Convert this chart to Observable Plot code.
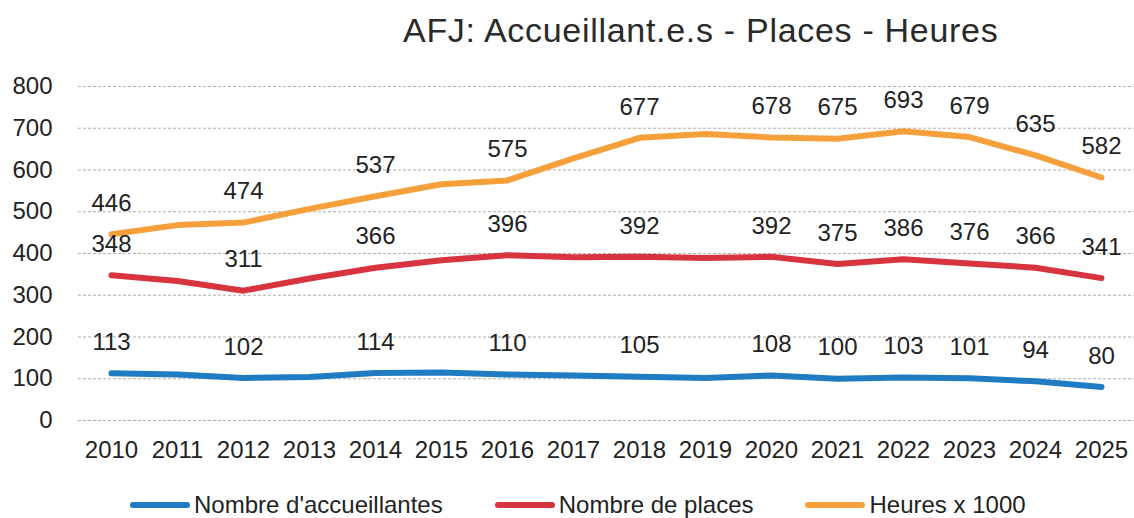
<!DOCTYPE html>
<html>
<head>
<meta charset="utf-8">
<script src="https://cdn.jsdelivr.net/npm/d3@7"></script>
<script src="https://cdn.jsdelivr.net/npm/@observablehq/plot@0.6"></script>
<style>
  html, body { margin: 0; padding: 0; background: #fff; }
  body { width: 1134px; height: 518px; position: relative; overflow: hidden; font-family: "Liberation Sans", Arial, sans-serif; color: #222; }
  #title { position: absolute; top: 11px; left: 403px; font-size: 34px; letter-spacing: 0.7px; white-space: nowrap; color: #2a2a2a; }
  #chart { position: absolute; top: 0; left: 0; }
  #legend { position: absolute; top: 491px; left: 130px; display: flex; align-items: center; font-size: 24px; white-space: nowrap; }
  .item { display: flex; align-items: center; margin-right: 52px; }
  .sw { width: 60px; height: 6px; border-radius: 3px; margin-right: 4px; }
</style>
</head>
<body>
<div id="title">AFJ: Accueillant.e.s - Places - Heures</div>
<div id="chart"></div>
<div id="legend"></div>
<script>
const years = [2010, 2011, 2012, 2013, 2014, 2015, 2016, 2017, 2018, 2019, 2020, 2021, 2022, 2023, 2024, 2025];
const accueillantes = [113, 110, 102, 104, 114, 115, 110, 108, 105, 102, 108, 100, 103, 101, 94, 80];
const places = [348, 334, 311, 340, 366, 384, 396, 391, 392, 389, 392, 375, 386, 376, 366, 341];
const heures = [446, 468, 474, 507, 537, 566, 575, 628, 677, 686, 678, 675, 693, 679, 635, 582];
const labeledYears = [2010, 2012, 2014, 2016, 2018, 2020, 2021, 2022, 2023, 2024, 2025];
const seriesNames = ["Nombre d'accueillantes", "Nombre de places", "Heures x 1000"];
const seriesColors = ["#1f7bc2", "#d8343f", "#f6a03c"];
const yTicks = [0, 100, 200, 300, 400, 500, 600, 700, 800];

const seriesValues = [accueillantes, places, heures];
const data = [];
seriesNames.forEach((name, i) => {
  years.forEach((yr, j) => data.push({ series: name, year: String(yr), value: seriesValues[i][j] }));
});
const labelData = data.filter(d => labeledYears.includes(+d.year));

const chart = Plot.plot({
  width: 1134,
  height: 518,
  marginTop: 86,
  marginBottom: 98,
  marginLeft: 78,
  marginRight: 0,
  style: { fontFamily: "Liberation Sans, Arial, sans-serif", background: "transparent" },
  x: { type: "point", domain: years.map(String), padding: 0.45, label: null },
  y: { domain: [0, 800], ticks: yTicks, label: null },
  color: { domain: seriesNames, range: seriesColors },
  marks: [
    Plot.ruleY(yTicks, { stroke: "#9a9a9a", strokeWidth: 1, strokeDasharray: "3,2", strokeOpacity: 0.8 }),
    Plot.axisY({ ticks: yTicks, tickSize: 0, tickPadding: 26, fontSize: 24, fill: "#222", label: null }),
    Plot.axisX({ tickSize: 0, tickPadding: 20, fontSize: 24, fill: "#222", label: null }),
    Plot.line(data, { x: "year", y: "value", z: "series", stroke: "series", strokeWidth: 6, strokeLinejoin: "round", strokeLinecap: "round" }),
    Plot.text(labelData, { x: "year", y: "value", text: d => String(d.value), dy: -31, fontSize: 24, fill: "#222" })
  ]
});
document.getElementById("chart").appendChild(chart);

const legend = document.getElementById("legend");
seriesNames.forEach((name, i) => {
  const item = document.createElement("div");
  item.className = "item";
  const sw = document.createElement("div");
  sw.className = "sw";
  sw.style.background = seriesColors[i];
  const t = document.createElement("span");
  t.textContent = name;
  item.appendChild(sw);
  item.appendChild(t);
  legend.appendChild(item);
});
</script>
</body>
</html>
